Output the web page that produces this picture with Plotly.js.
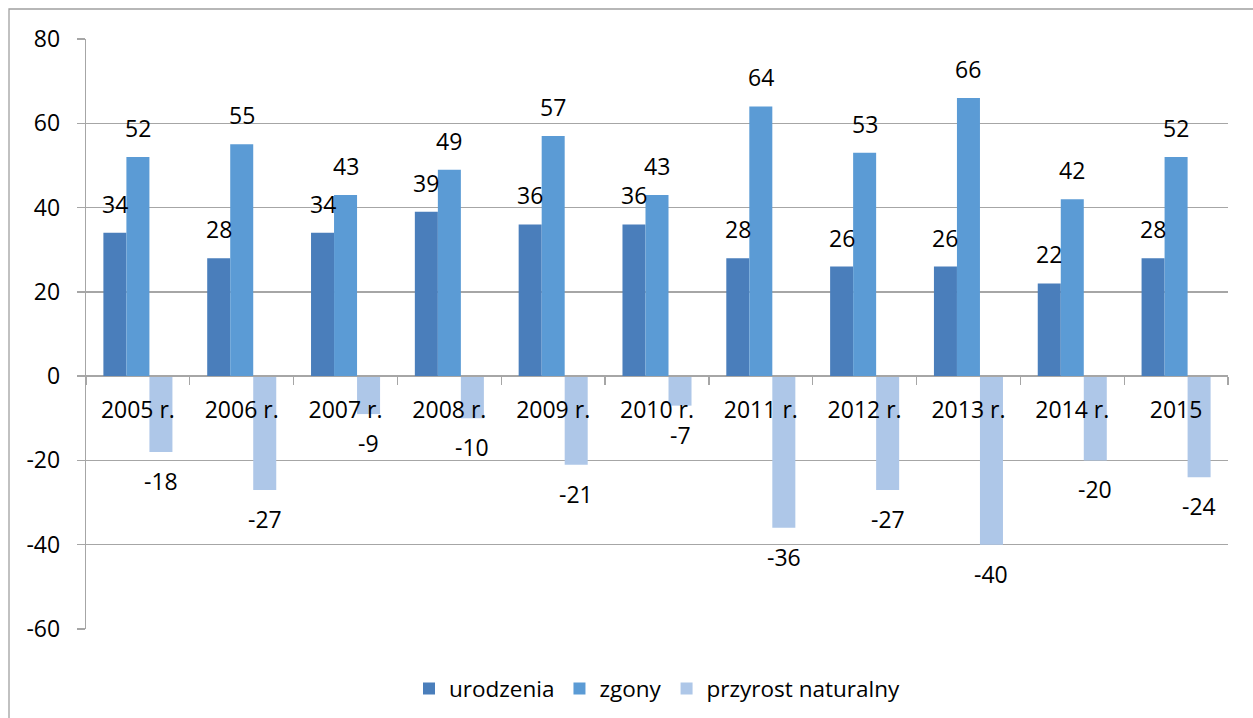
<!DOCTYPE html>
<html>
<head>
<meta charset="utf-8">
<script src="https://cdn.plot.ly/plotly-3.0.1.min.js"></script>
<style>
  html, body { margin: 0; padding: 0; background: #fff; }
  #chart { width: 1253px; height: 718px; }
</style>
</head>
<body>
<div id="chart"></div>
<script>
// ---- data ----
const categories = ["2005 r.", "2006 r.", "2007 r.", "2008 r.", "2009 r.", "2010 r.", "2011 r.", "2012 r.", "2013 r.", "2014 r.", "2015"];
const urodzenia = [34, 28, 34, 39, 36, 36, 28, 26, 26, 22, 28];
const zgony = [52, 55, 43, 49, 57, 43, 64, 53, 66, 42, 52];
const przyrost = [-18, -27, -9, -10, -21, -7, -36, -27, -40, -20, -24];
const seriesNames = ["urodzenia", "zgony", "przyrost naturalny"];
const yTicks = [-60, -40, -20, 0, 20, 40, 60, 80];

// ---- style ----
const colors = ["#4a7ebb", "#5b9bd5", "#aec7e8"];
const W = 1253, H = 718;
const margin = { l: 86, r: 25, t: 39, b: 89, autoexpand: false };
const bargap = 0.335;
const FONT = "Open Sans, sans-serif";
const FS = 23;
const gridColor = "#a6a6a6";
const yMin = -60, yMax = 80;

const idx = categories.map((c, i) => i);
const seriesVals = [urodzenia, zgony, przyrost];
const traces = seriesVals.map((vals, i) => ({
  type: "bar",
  name: seriesNames[i],
  x: idx,
  y: vals,
  marker: { color: colors[i], line: { width: 0 } },
  hoverinfo: "y+name"
}));

// value labels as annotations, offset per bar in the group (in data units)
const groupW = 1 - bargap;
const barW = groupW / seriesVals.length;
const annotations = [];
seriesVals.forEach((vals, i) => {
  const dx = (i - (seriesVals.length - 1) / 2) * barW;
  vals.forEach((v, j) => {
    annotations.push({
      x: j + dx, y: v, xref: "x", yref: "y",
      text: String(v), showarrow: false,
      yanchor: v >= 0 ? "bottom" : "top",
      yshift: v >= 0 ? 11 : -11,
      font: { family: FONT, size: FS, color: "#000" }
    });
  });
});

// outer chart frame (left and top edges visible)
const plotW = W - margin.l - margin.r;
const plotH = H - margin.t - margin.b;
const fx0 = (9 - margin.l) / plotW, fx1 = (W + 5 - margin.l) / plotW;
const fy1 = (H - 9 - margin.b) / plotH, fy0 = (-5 - margin.b) / plotH;
const shapes = [{
  type: "rect", xref: "paper", yref: "paper",
  x0: fx0, x1: fx1, y0: fy0, y1: fy1,
  line: { color: "#a0a0a0", width: 1.3 }, fillcolor: "rgba(0,0,0,0)", layer: "below"
}];

const layout = {
  width: W, height: H,
  margin: margin,
  paper_bgcolor: "#fff", plot_bgcolor: "#fff",
  barmode: "group",
  bargap: bargap,
  bargroupgap: 0,
  showlegend: true,
  legend: {
    orientation: "h", x: 0.5, xanchor: "center", y: -0.065, yanchor: "top",
    font: { family: FONT, size: 22.5, color: "#000" },
    traceorder: "normal"
  },
  font: { family: FONT, size: FS, color: "#000" },
  xaxis: {
    type: "linear",
    range: [-0.5, categories.length - 0.5],
    anchor: "free",
    position: (0 - yMin) / (yMax - yMin),
    showgrid: false, zeroline: false,
    showline: true, linecolor: gridColor, linewidth: 1.3,
    tickmode: "array", tickvals: idx, ticktext: categories,
    ticks: "", ticklen: 0,
    ticklabelstandoff: 13,
    minor: { ticks: "outside", ticklen: 8, tickcolor: gridColor, tickwidth: 1.3, tick0: -0.5, dtick: 1, showgrid: false },
    tickfont: { family: FONT, size: FS, color: "#000" },
    fixedrange: true
  },
  yaxis: {
    range: [yMin, yMax],
    tickvals: yTicks,
    ticktext: yTicks.map(String),
    showgrid: true, gridcolor: gridColor, gridwidth: 1.3,
    zeroline: false,
    showline: true, linecolor: gridColor, linewidth: 1.3,
    ticks: "outside", ticklen: 8, tickcolor: gridColor, tickwidth: 1.3,
    ticklabelstandoff: 12,
    tickfont: { family: FONT, size: FS, color: "#000" },
    fixedrange: true
  },
  annotations: annotations,
  shapes: shapes
};

Plotly.newPlot("chart", traces, layout, { displayModeBar: false, staticPlot: true });
</script>
</body>
</html>
